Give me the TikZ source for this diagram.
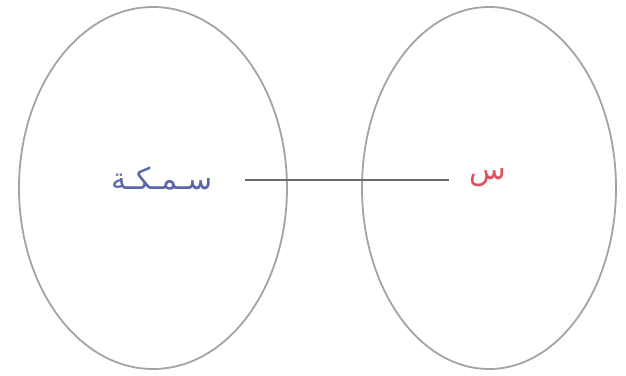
\documentclass[tikz,border=0pt]{standalone}
\usepackage{fontspec}
\TeXXeTstate=1
\newfontfamily\arabicfont[Script=Arabic]{DejaVu Sans}
\definecolor{ellgray}{HTML}{A4A4A4}
\definecolor{linegray}{HTML}{6A6A6A}
\definecolor{fishblue}{HTML}{5A68A8}
\definecolor{sinred}{HTML}{E0505E}
\begin{document}
\begin{tikzpicture}[x=1pt,y=-1pt,
  setshape/.style={draw=ellgray,line width=1.8pt},
  lbl/.style={font=\arabicfont\fontsize{30}{34}\selectfont,inner sep=0pt}]
\useasboundingbox (0,0) rectangle (626,375);
\fill[white] (0,0) rectangle (626,375);
\draw[setshape] (153,188) ellipse [x radius=134, y radius=181];
\draw[setshape] (489,188) ellipse [x radius=127, y radius=181];
\node[lbl,text=fishblue] (fish) at (162,178) {\beginR سـمـكـة\endR};
\node[lbl,text=sinred] (sin) at (488,178) {\beginR س\endR};
\draw[linegray,line width=1.5pt] (245,180) -- (449,180);
\end{tikzpicture}
\end{document}
